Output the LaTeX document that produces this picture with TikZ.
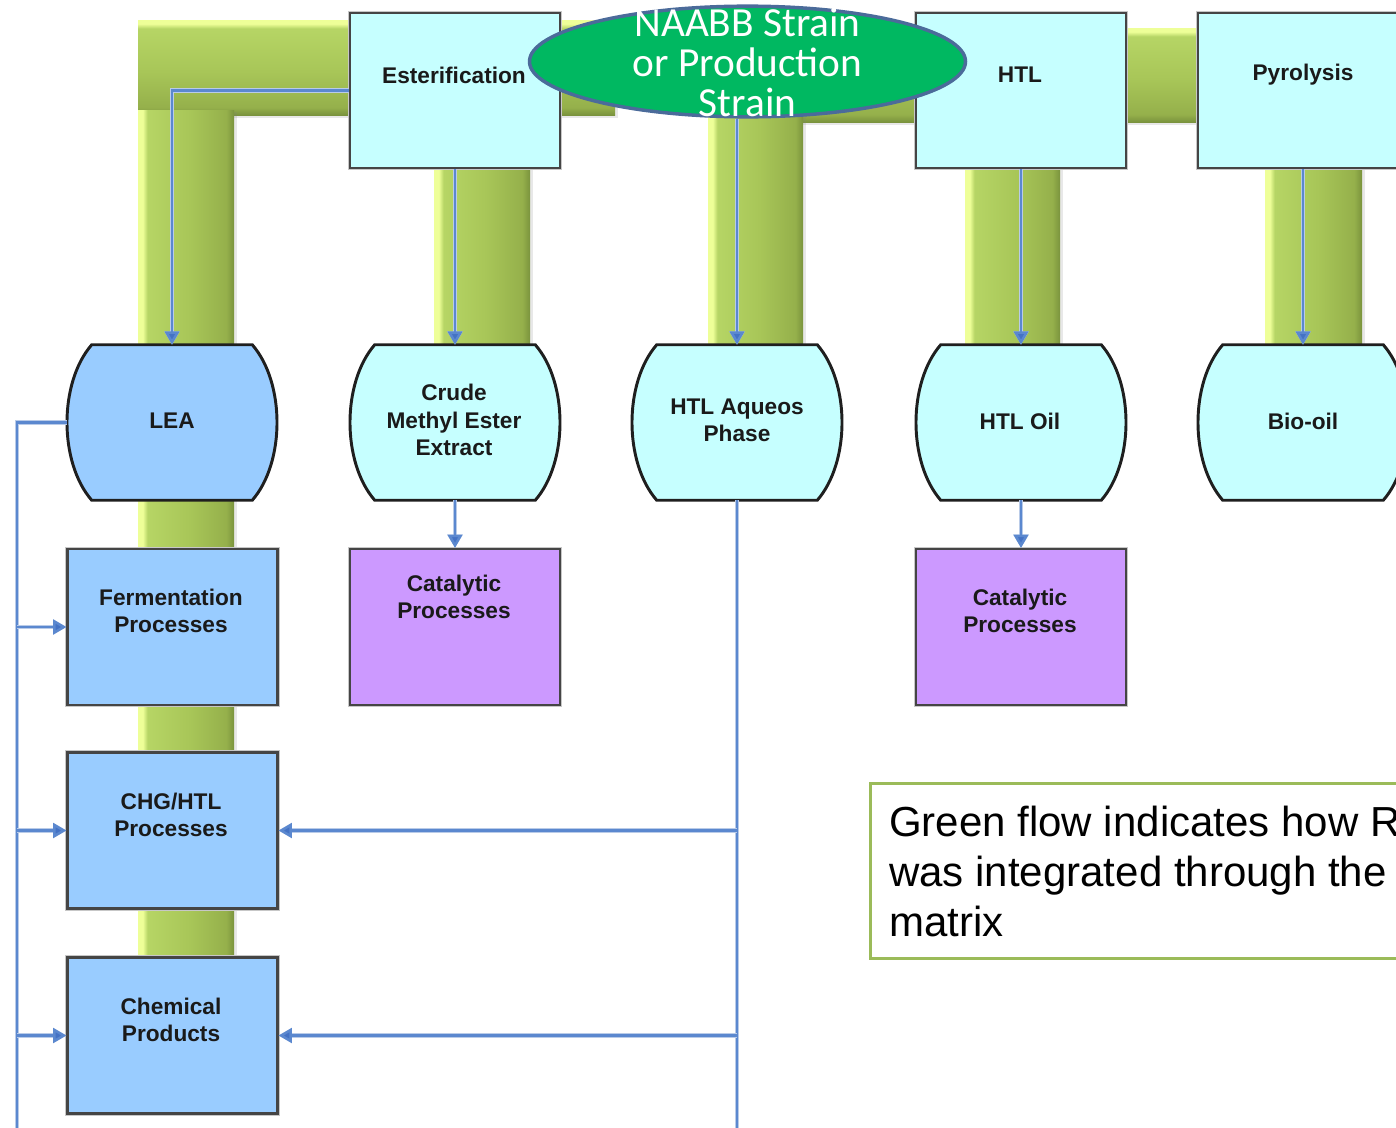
\documentclass[tikz,border=0pt]{standalone}
\usepackage{fontspec}
\setmainfont{Liberation Sans}
\newfontfamily\calfont{Carlito}
\usetikzlibrary{arrows.meta,calc,shapes.geometric,shadows}

\definecolor{cyanbox}{HTML}{C6FFFF}
\definecolor{bluebox}{HTML}{99CCFF}
\definecolor{purplebox}{HTML}{CC99FF}
\definecolor{ovalgreen}{HTML}{00B861}
\definecolor{ovalrim}{HTML}{4B6B9A}
\definecolor{legendrim}{HTML}{9BBB59}
\definecolor{linkC}{HTML}{5B88CF}
\definecolor{linkHalo}{HTML}{B9CBE8}
\definecolor{tipC}{HTML}{4472C4}
\definecolor{boxrim}{HTML}{454545}
\definecolor{labelC}{HTML}{1A1A1A}
\definecolor{pipeHi}{HTML}{EEFF98}
\definecolor{pipeA}{HTML}{B6D565}
\definecolor{pipeB}{HTML}{A8C658}
\definecolor{pipeC}{HTML}{95B04B}
\definecolor{pipeEdge}{HTML}{7A933D}

% pipe shadings: the path is fitted into the central 25bp..75bp band
\pgfdeclarehorizontalshading{pipeshadeV}{100bp}{color(0bp)=(pipeHi); color(25bp)=(pipeHi);
  color(27.5bp)=(pipeHi); color(30bp)=(pipeA); color(52bp)=(pipeB); color(71bp)=(pipeC);
  color(75bp)=(pipeEdge); color(100bp)=(pipeEdge)}
\pgfdeclareverticalshading{pipeshadeH}{100bp}{color(0bp)=(pipeEdge); color(25bp)=(pipeEdge);
  color(29bp)=(pipeC); color(48bp)=(pipeB); color(70.5bp)=(pipeA); color(73bp)=(pipeHi);
  color(75bp)=(pipeHi); color(100bp)=(pipeHi)}

% barrel-shaped data node outline drawn around an invisible rectangle node
\newcommand{\barrelpath}[2]{%
  \draw[barrelline, fill=#2]
    ($(#1.north west)+(25,0)$) -- ($(#1.north east)+(-25,0)$)
    .. controls ($(#1.north east)+(8,38)$) and ($(#1.south east)+(8,-38)$) ..
    ($(#1.south east)+(-25,0)$) -- ($(#1.south west)+(25,0)$)
    .. controls ($(#1.south west)+(-8,-38)$) and ($(#1.north west)+(-8,38)$) ..
    cycle;}

\begin{document}
\begin{tikzpicture}[x=0.75pt,y=-0.75pt,
  pipeV/.style={shading=pipeshadeV, drop shadow={opacity=0.18, shadow xshift=2pt, shadow yshift=-1.5pt}},
  pipeH/.style={shading=pipeshadeH, drop shadow={opacity=0.18, shadow xshift=2pt, shadow yshift=-2pt}},
  boxbase/.style={rectangle, draw=boxrim, line width=1.6pt, preaction={draw=black!22, line width=3.4pt},
    minimum width=157.5pt, inner sep=0pt},
  topbox/.style={boxbase, fill=cyanbox, minimum height=116.25pt},
  lowbox/.style={boxbase, minimum height=117pt},
  barrelbase/.style={rectangle, draw=none, minimum width=157.5pt, minimum height=116.25pt, inner sep=0pt},
  barrelline/.style={draw=black!88, line width=2.2pt},
  boxlabel/.style={font=\fontsize{17}{20.5}\selectfont\bfseries, text=labelC, align=center, inner sep=0pt},
  link/.style={draw=linkC, line width=1.9pt, preaction={draw=linkHalo, line width=3.4pt}},
  tip/.style={-{Triangle[length=10pt,width=11pt,fill=tipC]}},
]
\useasboundingbox (0,0) rectangle (1396,1128);
\clip (0,0) rectangle (1396,1128);
\fill[white] (0,0) rectangle (1396,1128);

% green flow pipes
\path[pipeH] (138,20) rectangle (615,115);
\path[pipeH] (780,28) rectangle (1215,122);
\path[pipeV] (138,110) rectangle (234,958);
\path[pipeV] (434,160) rectangle (530,345);
\path[pipeV] (708,110) rectangle (803,345);
\path[pipeV] (965,160) rectangle (1060,345);
\path[pipeV] (1265,160) rectangle (1362,345);

% process boxes along the top
\node[topbox] (ester) at (455,90.5) {};
\node[topbox] (htl) at (1021,90.5) {};
\node[topbox] (pyro) at (1303,90.5) {};
\node[boxlabel] (esterL) at (454,75) {Esterification};
\node[boxlabel] (htlL) at (1020,75) {HTL};
\node[boxlabel] (pyroL) at (1303,75) {Pyrolysis};

% intermediate products
\node[barrelbase] (lea) at (172,422.5) {};
\node[barrelbase] (crude) at (455,422.5) {};
\node[barrelbase] (htlaq) at (737,422.5) {};
\node[barrelbase] (htloil) at (1021,422.5) {};
\node[barrelbase] (biooil) at (1303,422.5) {};
\barrelpath{lea}{bluebox}
\barrelpath{crude}{cyanbox}
\barrelpath{htlaq}{cyanbox}
\barrelpath{htloil}{cyanbox}
\barrelpath{biooil}{cyanbox}
\node[boxlabel] (leaL) at (172,421) {LEA};
\node[boxlabel] (crudeL) at (454,420) {Crude\\Methyl Ester\\Extract};
\node[boxlabel] (htlaqL) at (737,420) {HTL Aqueos\\Phase};
\node[boxlabel] (htloilL) at (1020,421) {HTL Oil};
\node[boxlabel] (biooilL) at (1303,421) {Bio-oil};

% downstream processes
\node[lowbox, fill=bluebox] (ferm) at (172.5,627) {};
\node[lowbox, fill=bluebox] (chg) at (172.5,830.5) {};
\node[lowbox, fill=bluebox] (chem) at (172.5,1035.5) {};
\node[lowbox, fill=purplebox] (cat1) at (455,627) {};
\node[lowbox, fill=purplebox] (cat2) at (1021,627) {};
\node[boxlabel] (fermL) at (171,611) {Fermentation\\Processes};
\node[boxlabel] (chgL) at (171,815) {CHG/HTL\\Processes};
\node[boxlabel] (chemL) at (171,1020) {Chemical\\Products};
\node[boxlabel] (cat1L) at (454,597) {Catalytic\\Processes};
\node[boxlabel] (cat2L) at (1020,611) {Catalytic\\Processes};

% source strain
\node[ellipse, draw=ovalrim, line width=2.6pt, fill=ovalgreen, minimum width=327pt,
  minimum height=83pt, inner sep=0pt] (naabb) at (747.5,61.5) {};
\node[font=\calfont\fontsize{31}{30}\selectfont, text=white, align=center, inner sep=0pt]
  (naabbL) at (747.5,62) {NAABB Strain\\or Production\\Strain};

% connectors
\draw[link,tip] (ester.west) -| (lea.north);
\draw[link,tip] (ester.south) -- (crude.north);
\draw[link,tip] (naabb.south -| htlaq.north) -- (htlaq.north);
\draw[link,tip] (htl.south) -- (htloil.north);
\draw[link,tip] (pyro.south) -- (biooil.north);
\draw[link,tip] (crude.south) -- (cat1.north);
\draw[link,tip] (htloil.south) -- (cat2.north);

\coordinate (busL) at (17,1140);
\draw[link] (lea.west) -| (busL);
\draw[link,tip] (busL |- ferm.west) -- (ferm.west);
\draw[link,tip] (busL |- chg.west) -- (chg.west);
\draw[link,tip] (busL |- chem.west) -- (chem.west);

\coordinate (busR) at (737,1140);
\draw[link] (htlaq.south) -- (busR);
\draw[link,tip] (busR |- chg.east) -- (chg.east);
\draw[link,tip] (busR |- chem.east) -- (chem.east);

% legend
\node[rectangle, draw=legendrim, line width=2.3pt, fill=white, anchor=north west,
  minimum width=420pt, minimum height=131pt, inner sep=0pt] (legend) at (869,782) {};
\node[font=\fontsize{31.5}{37.5}\selectfont, align=left, anchor=west, inner sep=0pt]
  (legendL) at (889,871) {Green flow indicates how R\\was integrated through the\\matrix};
\end{tikzpicture}
\end{document}
